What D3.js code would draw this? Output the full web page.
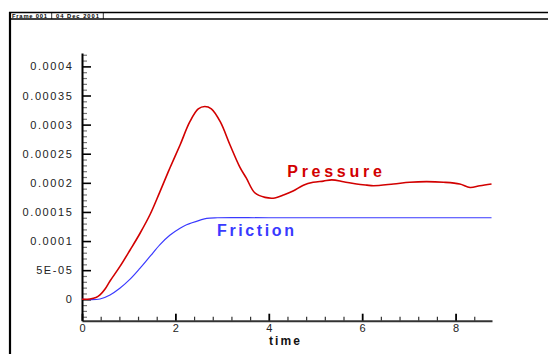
<!DOCTYPE html>
<html>
<head>
<meta charset="utf-8">
<script src="https://cdn.jsdelivr.net/npm/d3@7"></script>
<style>
  html, body { margin: 0; padding: 0; background: #fff; }
  svg { display: block; font-family: "Liberation Sans", Arial, sans-serif; }
</style>
</head>
<body>
<svg id="chart" width="548" height="354"></svg>
<script>
// pressure trace (time, value)
var pressureTime = [0, 0.17, 0.3, 0.385, 0.49, 0.6, 0.81, 1.03, 1.24, 1.46, 1.67, 1.88, 2.1, 2.31, 2.49, 2.63, 2.77, 2.96, 3.17, 3.38, 3.52, 3.7, 3.92, 4.13, 4.31, 4.52, 4.74, 4.95, 5.17, 5.35, 5.6, 5.88, 6.1, 6.24, 6.67, 7.02, 7.38, 7.74, 8.09, 8.31, 8.52, 8.77];
var pressure = [0, 0.0000005, 0.000003, 0.0000074, 0.0000172, 0.0000314, 0.000056, 0.0000847, 0.000113, 0.000146, 0.000185, 0.000225, 0.000265, 0.000305, 0.000327, 0.000331, 0.000327, 0.000305, 0.000265, 0.000227, 0.000208, 0.000183, 0.000175, 0.000174, 0.000179, 0.000186, 0.000196, 0.000201, 0.000203, 0.000205, 0.000202, 0.000198, 0.000196, 0.000195, 0.000198, 0.000201, 0.000202, 0.000201, 0.000198, 0.000192, 0.000195, 0.000198];

// friction trace
var frictionTime = [0, 0.385, 0.6, 0.81, 1.03, 1.24, 1.46, 1.67, 1.88, 2.1, 2.24, 2.53, 2.67, 2.9, 4, 6, 8, 8.77];
var friction = [0, 0.0000005, 0.0000074, 0.0000189, 0.0000345, 0.000053, 0.000074, 0.000094, 0.00011, 0.000122, 0.000128, 0.000136, 0.000139, 0.00014, 0.00014, 0.00014, 0.00014, 0.00014];

var xTicks = [0, 2, 4, 6, 8];
var yTicks = [0, 0.00005, 0.0001, 0.00015, 0.0002, 0.00025, 0.0003, 0.00035, 0.0004];
var yTickLabels = ["0", "5E-05", "0.0001", "0.00015", "0.0002", "0.00025", "0.0003", "0.00035", "0.0004"];

var svg = d3.select("#chart");

// frame header
svg.append("line").attr("x1", 9).attr("x2", 548).attr("y1", 12.5).attr("y2", 12.5)
  .attr("stroke", "#000").attr("stroke-width", 1.3);
svg.append("line").attr("x1", 9).attr("x2", 548).attr("y1", 19).attr("y2", 19)
  .attr("stroke", "#000").attr("stroke-width", 1.3);
svg.append("line").attr("x1", 10).attr("x2", 10).attr("y1", 12).attr("y2", 354)
  .attr("stroke", "#000").attr("stroke-width", 2.2);
[51.7, 103.3].forEach(function(x) {
  svg.append("line").attr("x1", x).attr("x2", x).attr("y1", 12.5).attr("y2", 19)
    .attr("stroke", "#000").attr("stroke-width", 0.8);
});
svg.append("text").attr("x", 12).attr("y", 17.6).text("Frame 001")
  .attr("font-size", 5.8).attr("font-weight", "bold")
  .attr("textLength", 35).attr("lengthAdjust", "spacing");
svg.append("text").attr("x", 56).attr("y", 17.6).text("04 Dec 2001")
  .attr("font-size", 5.8).attr("font-weight", "bold")
  .attr("textLength", 43).attr("lengthAdjust", "spacing");

var x = d3.scaleLinear().domain([0, 8.78]).range([82, 492]);
var y = d3.scaleLinear().domain([-0.0000368, 0.000423]).range([320.7, 53]);

// minor ticks
var xMinor = d3.range(0, 8.5, 0.4).filter(function(t) { return Math.abs(t / 2 - Math.round(t / 2)) > 0.01; });
var yMinor = d3.range(-3, 43, 1).filter(function(k) { return k % 5 != 0; }).map(function(k) { return k * 0.00001; });

svg.append("g")
  .attr("transform", "translate(0,320.7)")
  .call(d3.axisBottom(x).tickValues(xMinor).tickSizeInner(-4).tickSizeOuter(0).tickFormat(""))
  .call(function(g) { g.select(".domain").remove(); g.selectAll("line").attr("stroke", "#333").attr("stroke-width", 1.2); });

svg.append("g")
  .attr("transform", "translate(82,0)")
  .call(d3.axisLeft(y).tickValues(yMinor).tickSizeInner(-5).tickSizeOuter(0).tickFormat(""))
  .call(function(g) { g.select(".domain").remove(); g.selectAll("line").attr("stroke", "#777").attr("stroke-width", 1.2); });

// major axes
var gx = svg.append("g")
  .attr("transform", "translate(0,320.7)")
  .call(d3.axisBottom(x).tickValues(xTicks).tickSizeInner(-7).tickSizeOuter(0).tickPadding(3.5).tickFormat(d3.format("d")));
gx.select(".domain").attr("stroke", "#333").attr("stroke-width", 2);
gx.selectAll(".tick line").attr("stroke", "#000").attr("stroke-width", 1.8);
gx.selectAll(".tick text").attr("font-size", 11).attr("fill", "#222").attr("font-family", "Liberation Sans, Arial, sans-serif");

var gy = svg.append("g")
  .attr("transform", "translate(82,0)")
  .call(d3.axisLeft(y).tickValues(yTicks).tickSizeInner(-9).tickSizeOuter(0).tickPadding(8.5)
    .tickFormat(function(d, i) { return yTickLabels[i]; }));
gy.select(".domain").attr("stroke", "#000").attr("stroke-width", 2);
gy.selectAll(".tick line").attr("stroke", "#000").attr("stroke-width", 1.6);
gy.selectAll(".tick text").attr("font-size", 11).attr("fill", "#222").attr("letter-spacing", 1.6)
  .attr("font-family", "Liberation Sans, Arial, sans-serif");

svg.append("text").attr("x", 269).attr("y", 344.5).text("time")
  .attr("font-size", 12).attr("font-weight", "bold").attr("fill", "#111")
  .attr("textLength", 31).attr("lengthAdjust", "spacing");

// curves
var line = d3.line()
  .x(function(d) { return x(d[0]); })
  .y(function(d) { return y(d[1]); })
  .curve(d3.curveCatmullRom.alpha(0.5));

var pressurePts = pressureTime.map(function(t, i) { return [t, pressure[i]]; });
var frictionPts = frictionTime.map(function(t, i) { return [t, friction[i]]; });

svg.append("path").datum(frictionPts).attr("d", line)
  .attr("fill", "none").attr("stroke", "#3a3aff").attr("stroke-width", 1.2);
svg.append("path").datum(pressurePts).attr("d", line)
  .attr("fill", "none").attr("stroke", "#d20000").attr("stroke-width", 1.6);

// series labels
svg.append("text").attr("x", 287.3).attr("y", 176.7).text("Pressure")
  .attr("font-size", 16).attr("font-weight", "bold").attr("fill", "#d20000")
  .attr("textLength", 94.5).attr("lengthAdjust", "spacing");
svg.append("text").attr("x", 217).attr("y", 236).text("Friction")
  .attr("font-size", 16).attr("font-weight", "bold").attr("fill", "#3a3aff")
  .attr("textLength", 77).attr("lengthAdjust", "spacing");
</script>
</body>
</html>
